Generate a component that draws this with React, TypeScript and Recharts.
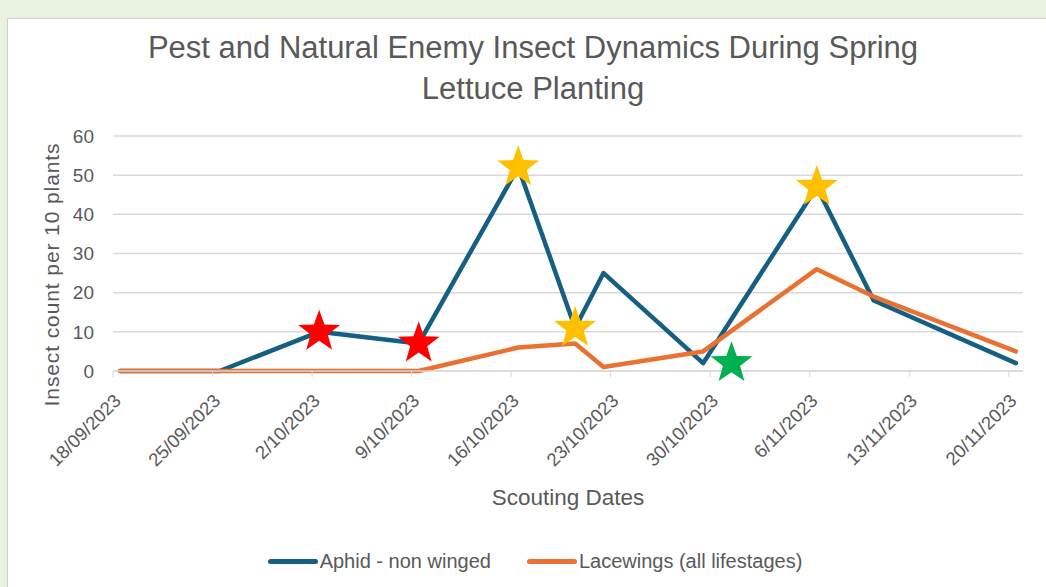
import React from 'react'
import {
  ComposedChart,
  Line,
  Scatter,
  XAxis,
  YAxis,
  CartesianGrid,
  Legend,
  Label,
} from 'recharts'

/* ─── Data ─────────────────────────────────────────────────────── */

const sampleDates = [
  '2023-09-18', '2023-09-25', '2023-10-02', '2023-10-09', '2023-10-16', '2023-10-20',
  '2023-10-22', '2023-10-29', '2023-11-06', '2023-11-10', '2023-11-20',
]
const aphidCounts = [0, 0, 10, 7, 52, 11, 25, 2, 47, 18, 2]
const lacewingCounts = [0, 0, 0, 0, 6, 7, 1, 5, 26, 19, 5]

const tickLabels = [
  '18/09/2023', '25/09/2023', '2/10/2023', '9/10/2023', '16/10/2023',
  '23/10/2023', '30/10/2023', '6/11/2023', '13/11/2023', '20/11/2023',
]
const yTicks = [0, 10, 20, 30, 40, 50, 60]

// star annotations placed on the chart
const starDates = ['2023-10-02', '2023-10-09', '2023-10-16', '2023-10-20', '2023-11-06', '2023-10-31']
const starValues = [10, 7, 52, 11, 47, 2]
const starColors = ['#FF0000', '#FF0000', '#FFC000', '#FFC000', '#FFC000', '#00B050']

/* ─── Theme ────────────────────────────────────────────────────── */

const APHID = '#156082'
const LACEWING = '#E97132'
const TEXT = '#595959'
const GRID = '#D9D9D9'
const SANS = "'Liberation Sans', Arial, sans-serif"

const START = Date.UTC(2023, 8, 18)
const DAY = 86400000
// Excel date axis puts each point in the middle of its day
const dayOf = (d: string) => (Date.parse(d) - START) / DAY + 0.5

const rows = sampleDates.map((d, i) => ({
  x: dayOf(d),
  aphid: aphidCounts[i],
  lacewing: lacewingCounts[i],
}))

const stars = starDates.map((d, i) => ({ x: dayOf(d), y: starValues[i], color: starColors[i] }))

const xTicks = tickLabels.map((_, i) => i * 7)

/* ─── Pieces ───────────────────────────────────────────────────── */

function StarShape(props: any) {
  const { cx, cy, payload } = props
  if (cx == null || cy == null) return null
  const outer = 22
  const inner = 9
  const pts: string[] = []
  for (let i = 0; i < 10; i++) {
    const r = i % 2 === 0 ? outer : inner
    const a = -Math.PI / 2 + (i * Math.PI) / 5
    pts.push(`${cx + r * Math.cos(a)},${cy + r * Math.sin(a)}`)
  }
  return <polygon points={pts.join(' ')} fill={payload.color} />
}

function DateTick(props: any) {
  const { x, y, payload } = props
  return (
    <g transform={`translate(${x + 9},${y + 23})`}>
      <text
        textAnchor="end"
        transform="rotate(-45)"
        fill={TEXT}
        fontSize={18.5}
        fontFamily={SANS}
      >
        {tickLabels[Math.round(payload.value / 7)]}
      </text>
    </g>
  )
}

function LegendContent(props: any) {
  const items = (props.payload || []).filter((p: any) => p.type !== 'none')
  return (
    <div style={{ display: 'flex', justifyContent: 'center', gap: 36, height: 40, alignItems: 'center' }}>
      {items.map((it: any) => (
        <div key={it.value} style={{ display: 'flex', alignItems: 'center' }}>
          <span
            style={{
              display: 'inline-block',
              width: 50,
              height: 5,
              borderRadius: 3,
              background: it.color,
              marginRight: 2,
            }}
          />
          <span style={{ color: TEXT, fontSize: 20, fontFamily: SANS }}>{it.value}</span>
        </div>
      ))}
    </div>
  )
}

/* ─── App ──────────────────────────────────────────────────────── */

export default function App() {
  return (
    <div
      style={{
        position: 'absolute',
        left: 0,
        top: 0,
        width: 1046,
        height: 587,
        background: '#E9F2DF',
        overflow: 'hidden',
      }}
    >
      <div
        style={{
          position: 'absolute',
          left: 7,
          top: 18,
          width: 1100,
          height: 600,
          background: '#FFFFFF',
          border: '1px solid #D0D0D0',
        }}
      />
      <div
        style={{
          position: 'absolute',
          left: 0,
          top: 27,
          width: 1066,
          textAlign: 'center',
          color: TEXT,
          fontFamily: SANS,
          fontSize: 31,
          lineHeight: '41px',
        }}
      >
        Pest and Natural Enemy Insect Dynamics During Spring
        <br />
        Lettuce Planting
      </div>
      <div style={{ position: 'absolute', left: 0, top: 0 }}>
        <ComposedChart
          width={1046}
          height={587}
          data={rows}
          margin={{ top: 136, right: 23, bottom: 0, left: 0 }}
        >
          <CartesianGrid stroke={GRID} strokeWidth={1.5} vertical={false} />
          <XAxis
            type="number"
            dataKey="x"
            domain={[0, 64]}
            ticks={xTicks}
            interval={0}
            height={176}
            tick={<DateTick />}
            tickLine={{ stroke: GRID }}
            tickSize={6}
            axisLine={{ stroke: GRID, strokeWidth: 1.5 }}
          >
            <Label
              content={(p: any) => (
                <text
                  x={p.viewBox.x + p.viewBox.width / 2}
                  y={p.viewBox.y + 134}
                  textAnchor="middle"
                  fill={TEXT}
                  fontSize={22.5}
                  fontFamily={SANS}
                >
                  Scouting Dates
                </text>
              )}
            />
          </XAxis>
          <YAxis
            type="number"
            domain={[0, 60]}
            ticks={yTicks}
            width={113}
            tickLine={false}
            axisLine={false}
            tickSize={6}
            tickMargin={13}
            tick={{ fill: TEXT, fontSize: 19, fontFamily: SANS }}
          >
            <Label
              content={(p: any) => (
                <text
                  transform={`translate(51,${p.viewBox.y + p.viewBox.height / 2 + 21}) rotate(-90)`}
                  textAnchor="middle"
                  dominantBaseline="central"
                  fill={TEXT}
                  fontSize={21}
                  letterSpacing={0.9}
                  fontFamily={SANS}
                >
                  Insect count per 10 plants
                </text>
              )}
            />
          </YAxis>
          <Line
            type="linear"
            dataKey="aphid"
            name="Aphid - non winged"
            stroke={APHID}
            strokeWidth={4.5}
            strokeLinejoin="round"
            strokeLinecap="round"
            dot={false}
            activeDot={false}
            isAnimationActive={false}
          />
          <Line
            type="linear"
            dataKey="lacewing"
            name="Lacewings (all lifestages)"
            stroke={LACEWING}
            strokeWidth={4.5}
            strokeLinejoin="round"
            strokeLinecap="round"
            dot={false}
            activeDot={false}
            isAnimationActive={false}
          />
          <Scatter
            data={stars}
            dataKey="y"
            legendType="none"
            shape={<StarShape />}
            isAnimationActive={false}
          />
          <Legend
            content={<LegendContent />}
            wrapperStyle={{ left: 12, width: 1046, bottom: 6, height: 40 }}
          />
        </ComposedChart>
      </div>
    </div>
  )
}
